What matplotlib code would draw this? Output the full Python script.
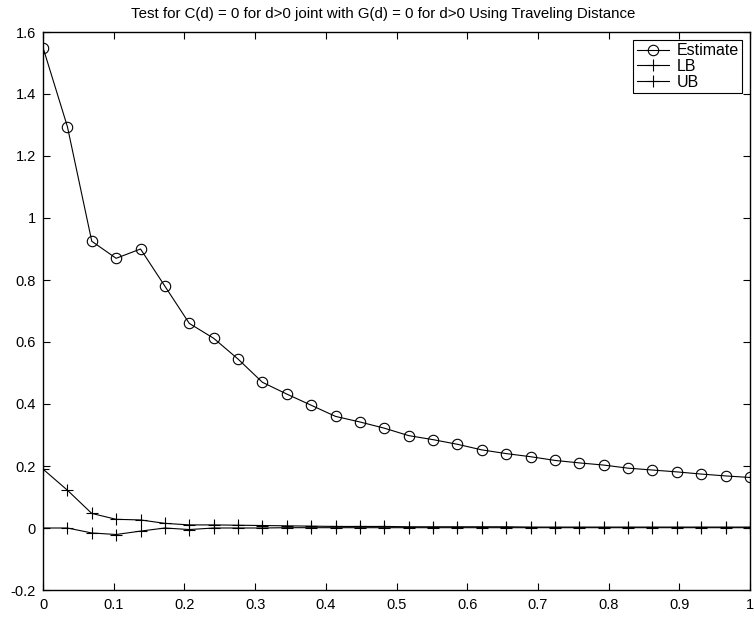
import numpy as np
import matplotlib
matplotlib.use("Agg")
import matplotlib.pyplot as plt

plt.rcParams['font.family'] = ['Liberation Sans', 'DejaVu Sans']

x = np.linspace(0, 1, 30)
estimate = [1.55, 1.295, 0.925, 0.87, 0.90, 0.78, 0.66, 0.612, 0.545, 0.47,
            0.432, 0.396, 0.36, 0.342, 0.322, 0.298, 0.285, 0.27, 0.252, 0.24,
            0.23, 0.218, 0.21, 0.203, 0.193, 0.187, 0.181, 0.174, 0.168, 0.163]
lb = [0.0, 0.0, -0.016, -0.021, -0.01, 0.0, -0.005, 0.0, 0.0, 0.0,
      0.001, 0.001, 0.001, 0.001, 0.001, 0.001, 0.001, 0.001, 0.001, 0.001,
      0.001, 0.001, 0.001, 0.001, 0.001, 0.001, 0.001, 0.001, 0.001, 0.001]
ub = [0.19, 0.122, 0.047, 0.028, 0.026, 0.015, 0.01, 0.01, 0.009, 0.008,
      0.007, 0.006, 0.005, 0.005, 0.005, 0.004, 0.004, 0.004, 0.004, 0.004,
      0.003, 0.003, 0.003, 0.003, 0.003, 0.003, 0.003, 0.003, 0.003, 0.003]

fig = plt.figure(figsize=(7.54, 6.18), dpi=100)
ax = fig.add_axes([43/754, 1-590/618, (750-43)/754, (590-32)/618])

ax.plot(x, estimate, '-o', color='black', mfc='none', ms=7.5, lw=0.8, mew=0.8, label='Estimate')
ax.plot(x, lb, '-+', color='black', ms=8, lw=0.8, mew=0.8, label='LB')
ax.plot(x, ub, '-+', color='black', ms=8, lw=0.8, mew=0.8, label='UB')

ax.set_xlim(0, 1)
ax.set_ylim(-0.2, 1.6)
ax.set_xticks(np.arange(0, 1.01, 0.1))
ax.set_xticklabels(['0', '0.1', '0.2', '0.3', '0.4', '0.5', '0.6', '0.7', '0.8', '0.9', '1'])
ax.set_yticks(np.arange(-0.2, 1.61, 0.2))
ax.set_yticklabels(['-0.2', '0', '0.2', '0.4', '0.6', '0.8', '1', '1.2', '1.4', '1.6'])
ax.tick_params(direction='in', top=True, right=True, length=5, width=0.8, labelsize=10.5)
ax.tick_params(axis='x', pad=6)
ax.tick_params(axis='y', pad=5)
for s in ax.spines.values():
    s.set_linewidth(1.0)
ax.set_title('Test for C(d) = 0 for d>0 joint with G(d) = 0 for d>0 Using Traveling Distance',
             fontsize=10.8, pad=10, x=0.481)
leg = ax.legend(loc='upper right', fontsize=11.5, fancybox=False, edgecolor='black', framealpha=1,
                borderpad=0.2, labelspacing=0.05, handlelength=2.0, handletextpad=0.5, borderaxespad=0.5)
leg.get_frame().set_linewidth(0.8)

fig.savefig('out.png', dpi=100)
